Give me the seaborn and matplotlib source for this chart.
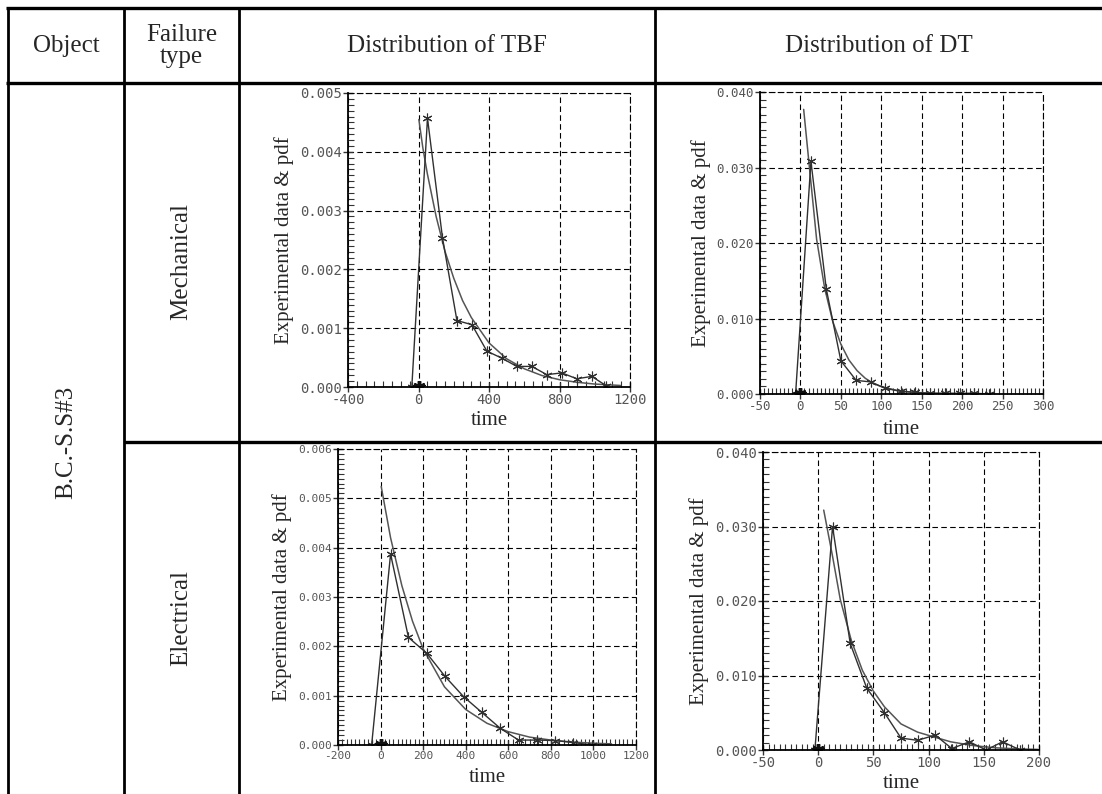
import matplotlib
matplotlib.use('Agg')
import matplotlib.pyplot as plt
import seaborn as sns
from matplotlib.lines import Line2D
from matplotlib.ticker import MultipleLocator, FormatStrFormatter

# Mechanical failures, time between failures
tbf_mech_x = [-38, 51, 136, 218, 303, 388, 473, 558, 643, 728, 813, 898, 983, 1066]
tbf_mech_y = [0, 0.00457, 0.00254, 0.00113, 0.00106, 0.00061, 0.00049, 0.00035,
              0.00035, 0.00021, 0.00024, 0.00014, 0.00018, 0.00002]
tbf_mech_fit_x = [2, 25, 50, 100, 150, 200, 250, 300, 400, 500, 600, 700, 800, 900, 1000, 1146]
tbf_mech_fit_y = [0.00455, 0.00406, 0.00363, 0.00290, 0.00231, 0.00185, 0.00147, 0.00118,
                  0.00075, 0.00048, 0.00031, 0.000195, 0.000124, 0.00008, 0.00005, 0.000026]

# Mechanical failures, down time
dt_mech_x = [-6, 13, 32, 50, 69, 87, 105, 124, 142, 160, 179, 197, 215, 233]
dt_mech_y = [0, 0.0308, 0.0139, 0.0044, 0.0018, 0.0016, 0.00075, 0.00035, 0.00022,
             0.0001, 0.0001, 0.0001, 0.0001, 0]
dt_mech_fit_x = [4, 13, 20, 30, 40, 50, 60, 70, 80, 90, 100, 120, 140, 170, 200, 240]
dt_mech_fit_y = [0.0377, 0.0280, 0.0205, 0.0140, 0.0096, 0.0066, 0.0045, 0.0031, 0.0021,
                 0.0014, 0.00098, 0.00046, 0.00021, 0.00007, 0.00002, 0.000005]

# Electrical failures, time between failures
tbf_elec_x = [-42, 47, 131, 217, 303, 390, 476, 562, 648, 734, 820, 906, 992]
tbf_elec_y = [0, 0.00387, 0.00218, 0.00186, 0.00139, 0.00098, 0.00066, 0.00034,
              0.0001, 0.0001, 0.00009, 0.00005, 0]
tbf_elec_fit_x = [3, 47, 100, 150, 200, 300, 400, 500, 600, 700, 800, 900, 1000, 1085]
tbf_elec_fit_y = [0.00524, 0.00420, 0.00323, 0.00251, 0.00195, 0.00118, 0.00072, 0.00044,
                  0.00027, 0.00016, 0.0001, 0.00006, 0.000036, 0.000023]

# Electrical failures, down time
dt_elec_x = [-3, 13, 29, 44, 60, 75, 90, 106, 121, 137, 152, 167, 183]
dt_elec_y = [0, 0.0300, 0.0143, 0.0083, 0.0050, 0.0016, 0.0013, 0.0020, 0.0002,
             0.0011, 0, 0.0011, 0]
dt_elec_fit_x = [5, 13, 20, 30, 40, 50, 60, 75, 90, 106, 120, 140, 160, 180, 199]
dt_elec_fit_y = [0.0322, 0.0260, 0.0202, 0.0147, 0.0107, 0.0079, 0.0058, 0.0035, 0.0024,
                 0.0017, 0.0011, 0.0006, 0.0003, 0.00015, 0.00008]

origin_x = [0]
origin_y = [0]

headers = ['Object', 'Failure\ntype', 'Distribution of TBF', 'Distribution of DT']
failure_types = ['Mechanical', 'Electrical']
object_name = 'B.C.-S.S#3'

sns.set_style('white')
plt.rcParams['font.family'] = ['Liberation Serif', 'DejaVu Serif']

W, H = 1102, 794
fig = plt.figure(figsize=(W / 100, H / 100), dpi=100)


def fx(px):
    return px / W


def fy(py):
    return 1 - py / H


def line(x0, y0, x1, y1, lw):
    fig.add_artist(Line2D([fx(x0), fx(x1)], [fy(y0), fy(y1)], color='black',
                          lw=lw, transform=fig.transFigure, solid_capstyle='butt'))


# table frame
line(6, 8, W, 8, 2.4)
line(6, 83, W, 83, 2.4)
line(124, 442, W, 442, 2.4)
for xv in [8, 124, 239, 655]:
    line(xv, 7, xv, H, 2.0)

# header texts
col_edges = [8, 124, 239, 655, W]
for i, h in enumerate(headers):
    fig.text(fx((col_edges[i] + col_edges[i + 1]) / 2), fy(46), h, ha='center', va='center',
             fontsize=18, linespacing=0.95)
fig.text(fx(66), fy(442), object_name, ha='center', va='center', rotation=90, fontsize=18)
fig.text(fx(181), fy(262), failure_types[0], ha='center', va='center', rotation=90, fontsize=18)
fig.text(fx(181), fy(618), failure_types[1], ha='center', va='center', rotation=90, fontsize=18)


def panel(box, xd, yd, xf, yf, xlim, xmaj, xmin, ylim, ymaj, ymin, tsize, xpad):
    left, top, right, bottom = box
    ax = fig.add_axes([fx(left), fy(bottom), (right - left) / W, (bottom - top) / H])
    sns.lineplot(x=xf, y=yf, ax=ax, color='#555555', lw=1.1)
    sns.lineplot(x=xd, y=yd, ax=ax, color='#303030', lw=1.0, marker=(6, 2, 0),
                 markersize=7, markeredgecolor='#303030', markeredgewidth=0.8)
    sns.lineplot(x=origin_x, y=origin_y, ax=ax, color='#101010', marker=(6, 2, 0),
                 markersize=9, markeredgecolor='#101010', markeredgewidth=2.5)
    ax.set_xlim(*xlim)
    ax.set_ylim(*ylim)
    ax.xaxis.set_major_locator(MultipleLocator(xmaj))
    ax.xaxis.set_minor_locator(MultipleLocator(xmin))
    ax.yaxis.set_major_locator(MultipleLocator(ymaj))
    ax.yaxis.set_minor_locator(MultipleLocator(ymin))
    ax.yaxis.set_major_formatter(FormatStrFormatter('%.3f'))
    ax.xaxis.set_major_formatter(FormatStrFormatter('%d'))
    ax.grid(True, which='major', color='black', linestyle=(0, (5, 3)), lw=0.8)
    for s in ['top', 'right']:
        ax.spines[s].set_linestyle((0, (5, 3)))
        ax.spines[s].set_linewidth(0.8)
    for s in ['left', 'bottom']:
        ax.spines[s].set_linewidth(1.3)
    for s in ax.spines.values():
        s.set_color('black')
    ax.tick_params(which='both', bottom=True, left=True, top=False, right=False)
    ax.tick_params(which='major', direction='inout', length=7, width=1.0, color='#333',
                   labelsize=tsize, labelcolor='#555', pad=1)
    ax.tick_params(which='minor', direction='in', length=4, width=0.8, color='#333')
    for lab in ax.get_xticklabels() + ax.get_yticklabels():
        lab.set_family('DejaVu Sans Mono')
    ax.set_xlabel('time', fontsize=15, labelpad=xpad)
    ax.set_ylabel('Experimental data & pdf', fontsize=15, labelpad=4)
    return ax


panel((348, 93, 630, 387), tbf_mech_x, tbf_mech_y, tbf_mech_fit_x, tbf_mech_fit_y,
      (-400, 1200), 400, 50, (0, 0.005), 0.001, 0.0001, 10, 3)
panel((760, 92, 1043, 394), dt_mech_x, dt_mech_y, dt_mech_fit_x, dt_mech_fit_y,
      (-50, 300), 50, 5, (0, 0.040), 0.010, 0.001, 9, 5)
panel((338, 449, 636, 745), tbf_elec_x, tbf_elec_y, tbf_elec_fit_x, tbf_elec_fit_y,
      (-200, 1200), 200, 20, (0, 0.006), 0.001, 0.0001, 8, 5)
panel((763, 452, 1039, 750), dt_elec_x, dt_elec_y, dt_elec_fit_x, dt_elec_fit_y,
      (-50, 200), 50, 5, (0, 0.040), 0.010, 0.001, 10, 3)

fig.savefig('out.png', dpi=100)
